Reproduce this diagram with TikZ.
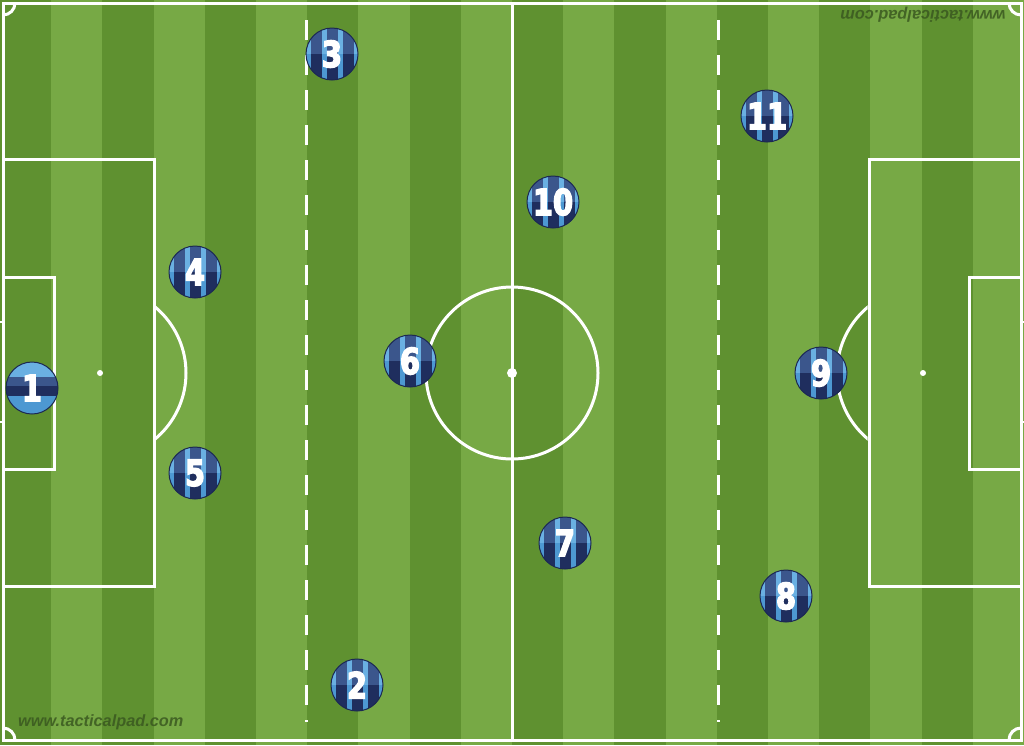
\documentclass[tikz,border=0pt]{standalone}
\usepackage{fontspec}
\newfontfamily\numfont{DejaVu Sans Bold}[FakeStretch=0.8]
\newfontfamily\wmfont{Liberation Sans}
\definecolor{grassD}{RGB}{95,145,48}
\definecolor{grassL}{RGB}{119,169,69}
\definecolor{tlightT}{RGB}{106,176,226}
\definecolor{tlightB}{RGB}{77,152,210}
\definecolor{tdarkT}{RGB}{59,86,140}
\definecolor{tdarkB}{RGB}{31,46,94}
\definecolor{tnavy}{RGB}{28,40,82}
\definecolor{wmcol}{RGB}{58,88,32}
\tikzset{
  pline/.style={draw=white,line width=3},
  token/.style={circle,minimum size=52,inner sep=0,draw=tnavy,line width=1,
     font=\numfont\fontsize{36}{36}\selectfont,text=white},
  wm/.style={font=\wmfont\bfseries\itshape\fontsize{16.3}{17}\selectfont,text=wmcol,opacity=.85,inner sep=0},
  dashln/.style={draw=white,line width=3,dash pattern=on 20 off 15}
}
\newcommand\outl[1]{\special{pdf:literal direct 2 Tr 1.4 w 1 1 1 RG}#1\special{pdf:literal direct 0 Tr}}
\newcommand\plr[4]{%
  \begin{scope}
    \clip (#2,#3) circle (26);
    \fill[tlightT] ({#2-27},{#3-27}) rectangle ({#2+27},{#3});
    \fill[tlightB] ({#2-27},{#3}) rectangle ({#2+27},{#3+27});
    \foreach \d in {-16,0,16} {
      \fill[tdarkT] ({#2+\d-5.5},{#3-27}) rectangle ({#2+\d+5.5},{#3});
      \fill[tdarkB] ({#2+\d-5.5},{#3}) rectangle ({#2+\d+5.5},{#3+27});
    }
  \end{scope}
  \node[token] (#1) at (#2,#3) {\outl{#4}};
}
\begin{document}
\begin{tikzpicture}[x=1pt,y=-1pt]
\useasboundingbox (0,0) rectangle (1024,745);
% grass
\fill[grassL] (0,0) rectangle (1024,745);
\foreach \k in {0,...,9}
  \fill[grassD] ({\k*102.4},0) rectangle ({\k*102.4+51.2},745);
% outer lines
\draw[pline] (3,3) rectangle (1021,740);
\draw[pline] (512,3) -- (512,740);
% centre circle and spot
\draw[pline] (512,373) circle (86);
\fill[white] (512,373) circle (5);
% left penalty area
\draw[pline] (3,159) -- (154,159) -- (154,586) -- (3,586);
\draw[pline] (3,277) -- (54,277) -- (54,469) -- (3,469);
\fill[white] (100,373) circle (3);
\begin{scope}
  \clip (155.5,0) rectangle (400,745);
  \draw[pline] (100,373) circle (86);
\end{scope}
% right penalty area
\draw[pline] (1021,159) -- (869,159) -- (869,586) -- (1021,586);
\draw[pline] (1021,277) -- (969,277) -- (969,469) -- (1021,469);
\fill[white] (923,373) circle (3);
\begin{scope}
  \clip (600,0) rectangle (867.5,745);
  \draw[pline] (923,373) circle (86);
\end{scope}
% corner arcs
\begin{scope}
  \clip (3,3) rectangle (1021,740);
  \draw[pline] (3,3) circle (12);
  \draw[pline] (1021,3) circle (12);
  \draw[pline] (3,740) circle (12);
  \draw[pline] (1021,740) circle (12);
\end{scope}
% goal ticks
\draw[white,line width=1.5] (0,322) -- (3,322) (0,422) -- (3,422);
\draw[white,line width=1.5] (1021,322) -- (1024,322) (1021,422) -- (1024,422);
% dashed zone lines
\coordinate (dl1) at (306,20);
\coordinate (dl2) at (306,722);
\coordinate (dr1) at (718,20);
\coordinate (dr2) at (718,722);
\draw[dashln] (dl1) -- (dl2);
\draw[dashln] (dr1) -- (dr2);
% watermarks
\node[wm,anchor=west] (wmb) at (18,722) {www.tacticalpad.com};
\node[wm,rotate=180] (wmt) at (923,15) {www.tacticalpad.com};
% goalkeeper
\begin{scope}
  \clip (32,388) circle (26);
  \fill[tlightT] (6,362) rectangle (58,388);
  \fill[tlightB] (6,388) rectangle (58,414);
  \fill[tdarkT] (6,377) rectangle (58,386);
  \fill[tdarkB] (6,386) rectangle (58,396);
\end{scope}
\node[token] (p1) at (32,388) {\outl{1}};
% outfield players
\plr{p2}{357}{685}{2}
\plr{p3}{332}{54}{3}
\plr{p4}{195}{272}{4}
\plr{p5}{195}{473}{5}
\plr{p6}{410}{361}{6}
\plr{p7}{565}{543}{7}
\plr{p8}{786}{596}{8}
\plr{p9}{821}{373}{9}
\plr{p10}{553}{202}{10}
\plr{p11}{767}{116}{11}
\end{tikzpicture}
\end{document}
